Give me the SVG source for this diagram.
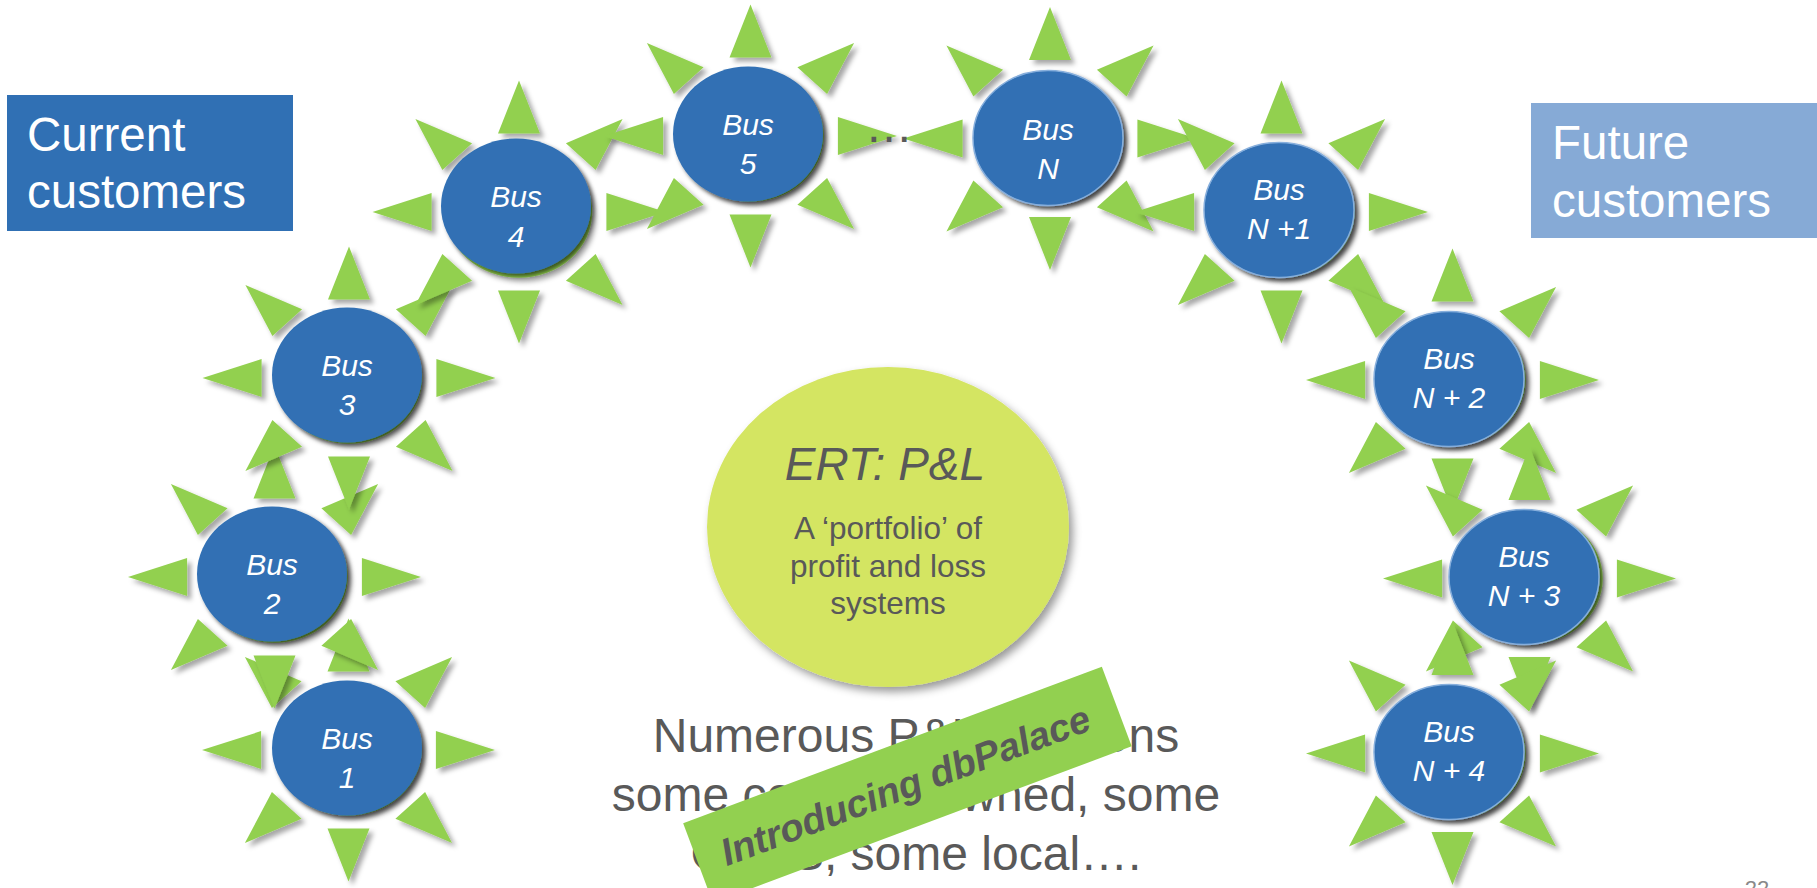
<svg xmlns="http://www.w3.org/2000/svg" xmlns:xlink="http://www.w3.org/1999/xlink" width="1817" height="888" viewBox="0 0 1817 888">
  <style>
    .rays { fill: #92d050; filter: url(#rayShadow); }
    .disc { fill: #3070b4; filter: url(#discShadow); }
    .rim { stroke: #86aedc; stroke-width: 1.5; }
    .bus { font-family: "Liberation Sans", Arial, sans-serif; font-style: italic; font-size: 30px; fill: #ffffff; text-anchor: middle; }
    .box-label { font-family: "Liberation Sans", Arial, sans-serif; font-size: 47.5px; fill: #ffffff; }
    .grey { font-family: "Liberation Sans", Arial, sans-serif; fill: #595959; text-anchor: middle; }
  </style>
  <defs>
    <filter id="rayShadow" x="-20%" y="-20%" width="150%" height="150%">
      <feDropShadow dx="4" dy="4" stdDeviation="2.5" flood-color="#000" flood-opacity="0.35"/>
    </filter>
    <filter id="discShadow" x="-20%" y="-20%" width="150%" height="150%">
      <feDropShadow dx="3" dy="3" stdDeviation="2" flood-color="#000" flood-opacity="0.6"/>
    </filter>
    <filter id="softShadow" x="-20%" y="-20%" width="150%" height="150%">
      <feDropShadow dx="4" dy="5" stdDeviation="4" flood-color="#000" flood-opacity="0.4"/>
    </filter>
    <!-- eight rays and the central disc of one sun, centred on 0,0 -->
    <path id="sunRays" d="M146.5,0 L87.4,-18.9 L87.4,18.9 Z
      M-146.5,0 L-87.4,-18.9 L-87.4,18.9 Z
      M0,-131.5 L-21,-78.4 L21,-78.4 Z
      M0,131.5 L-21,78.4 L21,78.4 Z
      M-103.6,-93 L-76.6,-42.1 L-46.9,-68.8 Z
      M103.6,-93 L76.6,-42.1 L46.9,-68.8 Z
      M-103.6,93 L-76.6,42.1 L-46.9,68.8 Z
      M103.6,93 L76.6,42.1 L46.9,68.8 Z
      M-73.25,0 A73.25,65.75 0 1,0 73.25,0 A73.25,65.75 0 1,0 -73.25,0 Z"/>
  </defs>

  <rect width="1817" height="888" fill="#ffffff"/>

  <!-- customer labels -->
  <g id="current-customers">
    <rect x="7" y="95" width="286" height="136" fill="#3070b4"/>
    <text class="box-label" x="27" y="151">Current</text>
    <text class="box-label" x="27" y="208">customers</text>
  </g>
  <g id="future-customers">
    <rect x="1531" y="103" width="286" height="135" fill="#86aad6"/>
    <text class="box-label" x="1552" y="159">Future</text>
    <text class="box-label" x="1552" y="217">customers</text>
  </g>

  <!-- central P&L disc -->
  <g id="ert-pl">
    <ellipse cx="888" cy="527" rx="181" ry="160" fill="#d4e562" filter="url(#softShadow)"/>
    <text class="grey" x="885" y="480" font-size="46" font-style="italic">ERT: P&amp;L</text>
    <text class="grey" x="888" y="539" font-size="31.5">A ‘portfolio’ of</text>
    <text class="grey" x="888" y="577" font-size="31.5">profit and loss</text>
    <text class="grey" x="888" y="614" font-size="31.5">systems</text>
  </g>

  <!-- bus nodes, drawn in sequence so each overlaps the previous -->
  <g id="bus-1">
    <use xlink:href="#sunRays" href="#sunRays" class="rays" x="348.5" y="750"/>
    <ellipse class="disc" cx="347" cy="748" rx="75" ry="67.5"/>
    <text class="bus" x="347" y="749">Bus</text>
    <text class="bus" x="347" y="788">1</text>
  </g>
  <g id="bus-2">
    <use xlink:href="#sunRays" href="#sunRays" class="rays" x="274.5" y="577"/>
    <ellipse class="disc" cx="272" cy="574" rx="75" ry="67.5"/>
    <text class="bus" x="272" y="575">Bus</text>
    <text class="bus" x="272" y="614">2</text>
  </g>
  <g id="bus-3">
    <use xlink:href="#sunRays" href="#sunRays" class="rays" x="349" y="378"/>
    <ellipse class="disc" cx="347" cy="375" rx="75" ry="67.5"/>
    <text class="bus" x="347" y="376">Bus</text>
    <text class="bus" x="347" y="415">3</text>
  </g>
  <g id="bus-4">
    <use xlink:href="#sunRays" href="#sunRays" class="rays" x="519" y="212"/>
    <ellipse class="disc" cx="516" cy="206" rx="75" ry="67.5"/>
    <text class="bus" x="516" y="207">Bus</text>
    <text class="bus" x="516" y="247">4</text>
  </g>
  <g id="bus-5">
    <use xlink:href="#sunRays" href="#sunRays" class="rays" x="750.5" y="136"/>
    <ellipse class="disc" cx="748" cy="134" rx="75" ry="67.5"/>
    <text class="bus" x="748" y="135">Bus</text>
    <text class="bus" x="748" y="174">5</text>
  </g>
  <g id="bus-n">
    <use xlink:href="#sunRays" href="#sunRays" class="rays" x="1050" y="138.5"/>
    <ellipse class="disc rim" cx="1048" cy="138" rx="75" ry="67.5"/>
    <text class="bus" x="1048" y="140">Bus</text>
    <text class="bus" x="1048" y="179">N</text>
  </g>
  <g id="bus-n1">
    <use xlink:href="#sunRays" href="#sunRays" class="rays" x="1281.5" y="212"/>
    <ellipse class="disc rim" cx="1279" cy="210" rx="75" ry="67.5"/>
    <text class="bus" x="1279" y="200">Bus</text>
    <text class="bus" x="1279" y="239">N +1</text>
  </g>
  <g id="bus-n2">
    <use xlink:href="#sunRays" href="#sunRays" class="rays" x="1452.5" y="380"/>
    <ellipse class="disc rim" cx="1449" cy="379" rx="75" ry="67.5"/>
    <text class="bus" x="1449" y="369">Bus</text>
    <text class="bus" x="1449" y="408">N + 2</text>
  </g>
  <g id="bus-n3">
    <use xlink:href="#sunRays" href="#sunRays" class="rays" x="1529.5" y="578.5"/>
    <ellipse class="disc rim" cx="1524" cy="577" rx="75" ry="67.5"/>
    <text class="bus" x="1524" y="567">Bus</text>
    <text class="bus" x="1524" y="606">N + 3</text>
  </g>
  <g id="bus-n4">
    <use xlink:href="#sunRays" href="#sunRays" class="rays" x="1452.5" y="753.5"/>
    <ellipse class="disc rim" cx="1449" cy="752" rx="75" ry="67.5"/>
    <text class="bus" x="1449" y="742">Bus</text>
    <text class="bus" x="1449" y="781">N + 4</text>
  </g>

  <!-- gap marker between bus 5 and bus N -->
  <g id="gap">
    <text class="grey" x="889" y="142" font-size="48">…</text>
  </g>

  <!-- note under the central disc -->
  <g id="note">
    <text class="grey" x="916" y="752" font-size="48">Numerous P&amp;L solutions</text>
    <text class="grey" x="916" y="811" font-size="48">some centrally owned, some</text>
    <text class="grey" x="916" y="870" font-size="48">COTS, some local….</text>
  </g>

  <!-- tilted banner -->
  <g id="banner" transform="translate(907.4,784.8) rotate(-20.5)">
    <rect x="-223.5" y="-42.5" width="447" height="85" fill="#92d050"/>
    <text class="grey" x="-2" y="13" font-size="38.5" font-weight="bold" font-style="italic">Introducing dbPalace</text>
  </g>

  <!-- page number -->
  <text x="1757" y="896" font-family="Liberation Sans, Arial, sans-serif" font-size="22" fill="#898989" text-anchor="middle">22</text>
</svg>
